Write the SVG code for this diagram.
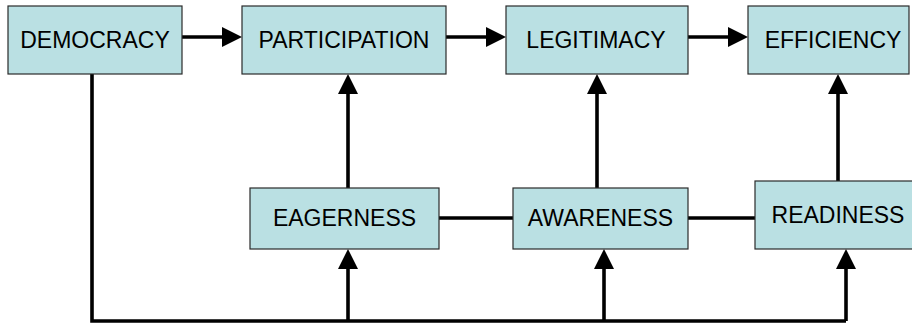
<svg xmlns="http://www.w3.org/2000/svg" width="912" height="323" viewBox="0 0 912 323">
<style>
.box{fill:#BAE0E3;stroke:#2a2a2a;stroke-width:1.2}
.lbl{font-family:"Liberation Sans",Arial,sans-serif;font-size:23px;fill:#000;text-anchor:middle}
.c{fill:none;stroke:#000;stroke-width:3.6}
</style>
<defs>
<marker id="ah" viewBox="0 0 20 20" markerWidth="20" markerHeight="20" markerUnits="userSpaceOnUse" refX="10" refY="10" orient="auto">
<path d="M0,0 L20,10 L0,20 z" fill="#000"/>
</marker>
</defs>
<rect width="912" height="323" fill="#fff"/>
<g id="connectors">
<path class="c" d="M182,37 L232,37" marker-end="url(#ah)"/>
<path class="c" d="M446,37 L496,37" marker-end="url(#ah)"/>
<path class="c" d="M688,37 L738,37" marker-end="url(#ah)"/>
<path class="c" d="M348,188 L348,84" marker-end="url(#ah)"/>
<path class="c" d="M597,188 L597,84" marker-end="url(#ah)"/>
<path class="c" d="M838,181 L838,84" marker-end="url(#ah)"/>
<path class="c" d="M439,218 L513,218"/>
<path class="c" d="M688,218 L755,218"/>
<path class="c" d="M92,74 L92,321 L846,321"/>
<path class="c" d="M348,321 L348,259" marker-end="url(#ah)"/>
<path class="c" d="M604,321 L604,259" marker-end="url(#ah)"/>
<path class="c" d="M846,321 L846,259" marker-end="url(#ah)"/>
</g>
<g id="democracy"><rect class="box" x="8" y="6" width="174" height="68"/><text class="lbl" x="95" y="48">DEMOCRACY</text></g>
<g id="participation"><rect class="box" x="242" y="6" width="204" height="68"/><text class="lbl" x="344" y="48">PARTICIPATION</text></g>
<g id="legitimacy"><rect class="box" x="506" y="6" width="182" height="68"/><text class="lbl" x="596" y="48">LEGITIMACY</text></g>
<g id="efficiency"><rect class="box" x="748" y="6" width="161" height="68"/><text class="lbl" x="833" y="48">EFFICIENCY</text></g>
<g id="eagerness"><rect class="box" x="250" y="188" width="189" height="61"/><text class="lbl" x="344.5" y="226">EAGERNESS</text></g>
<g id="awareness"><rect class="box" x="513" y="188" width="175" height="61"/><text class="lbl" x="600.5" y="226">AWARENESS</text></g>
<g id="readiness"><rect class="box" x="755" y="181" width="166" height="68"/><text class="lbl" x="838" y="223">READINESS</text></g>
</svg>
